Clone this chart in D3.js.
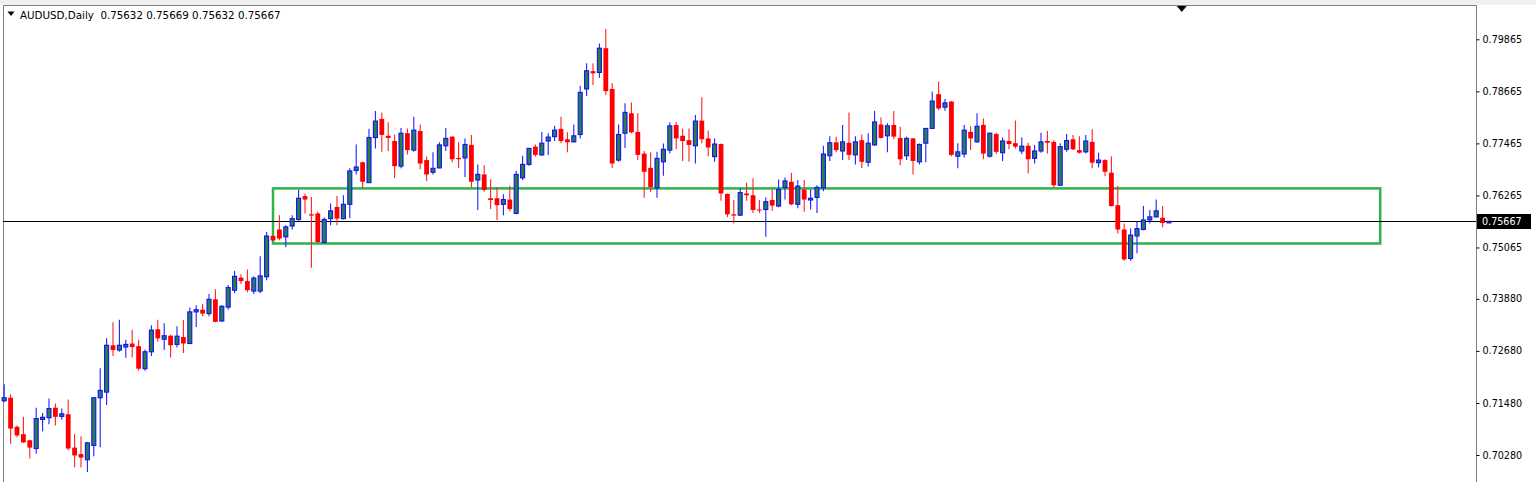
<!DOCTYPE html>
<html><head><meta charset="utf-8">
<script src="https://cdn.jsdelivr.net/npm/d3@7"></script>
<style>html,body{margin:0;padding:0;background:#fff;overflow:hidden}</style>
</head><body>
<svg id="c" width="1536" height="482"></svg>
<script>
const symbol = "AUDUSD,Daily";
const headerOHLC = ["0.75632", "0.75669", "0.75632", "0.75667"];
const opens = [.7153,.7160,.7093,.7076,.7062,.7043,.7110,.7114,.7137,.7117,.7122,.7045,.7030,.7017,.7050,.7160,.7173,.7281,.7270,.7277,
.7285,.7279,.7227,.7266,.7318,.7295,.7303,.7283,.7300,.7285,.7358,.7363,.7354,.7387,.7337,.7369,.7408,.7437,.7429,.7406,
.7406,.7439,.7533,.7548,.7531,.7556,.7571,.7625,.7583,.7585,.7518,.7573,.7600,.7573,.7606,.7684,.7703,.7656,.7760,.7803,
.7764,.7752,.7694,.7770,.7731,.7775,.7708,.7680,.7690,.7741,.7762,.7713,.7713,.7743,.7662,.7675,.7620,.7620,.7606,.7617,
.7585,.7667,.7698,.7739,.7720,.7752,.7762,.7780,.7756,.7750,.7767,.7872,.7913,.7910,.7966,.7872,.7708,.7770,.7816,.7773,
.7723,.7690,.7644,.7704,.7731,.7789,.7764,.7754,.7741,.7799,.7758,.7716,.7745,.7630,.7583,.7581,.7631,.7627,.7594,.7594,
.7616,.7602,.7645,.7658,.7606,.7640,.7616,.7622,.7644,.7718,.7749,.7729,.7748,.7720,.7754,.7703,.7743,.7790,.7764,.7789,
.7759,.7718,.7758,.7704,.7747,.7781,.7860,.7830,.7843,.7717,.7722,.7773,.7750,.7789,.7717,.7768,.7725,.7752,.7747,.7729,
.7741,.7712,.7729,.7752,.7750,.7650,.7733,.7756,.7731,.7727,.7750,.7702,.7708,.7679,.7604,.7548,.7481,.7533,.7548,.7570,
.7577,.7575,.75632];
const highs = [.7191,.7168,.7096,.7116,.7063,.7137,.7125,.7158,.7147,.7135,.7156,.7076,.7071,.7058,.7161,.7228,.7297,.7334,.7340,.7294,
.7317,.7294,.7271,.7327,.7340,.7332,.7306,.7325,.7339,.7368,.7373,.7377,.7399,.7410,.7373,.7420,.7452,.7445,.7456,.7440,
.7486,.7542,.7535,.7581,.7558,.7581,.7640,.7631,.7623,.7589,.7576,.7608,.7625,.7627,.7689,.7744,.7704,.7780,.7821,.7818,
.7795,.7767,.7782,.7781,.7808,.7790,.7716,.7726,.7749,.7782,.7763,.7749,.7758,.7766,.7698,.7696,.7664,.7646,.7629,.7649,
.7683,.7718,.7736,.7744,.7773,.7770,.7787,.7808,.7772,.7790,.7879,.7931,.7931,.7977,.8010,.7885,.7790,.7839,.7841,.7816,
.7729,.7726,.7727,.7746,.7795,.7796,.7780,.7781,.7812,.7853,.7776,.7758,.7746,.7631,.7616,.7643,.7656,.7666,.7616,.7622,
.7640,.7663,.7668,.7679,.7662,.7662,.7640,.7650,.7741,.7763,.7762,.7789,.7818,.7763,.7767,.7770,.7821,.7806,.7793,.7821,
.7785,.7762,.7759,.7746,.7782,.7866,.7889,.7849,.7844,.7747,.7789,.7786,.7816,.7804,.7771,.7771,.7760,.7779,.7799,.7760,
.7748,.7743,.7771,.7775,.7754,.7747,.7768,.7766,.7763,.7766,.7779,.7725,.7710,.7717,.7648,.7562,.7550,.7566,.7602,.7593,
.7617,.7602,.75669];
const lows = [.7150,.7054,.7069,.7056,.7020,.7031,.7083,.7099,.7096,.7110,.7039,.7000,.6999,.6989,.7025,.7046,.7143,.7256,.7266,.7252,
.7253,.7222,.7222,.7256,.7289,.7270,.7253,.7276,.7263,.7284,.7323,.7348,.7348,.7334,.7335,.7363,.7401,.7422,.7403,.7399,
.7401,.7431,.7521,.7523,.7507,.7548,.7568,.7585,.7460,.7517,.7516,.7558,.7558,.7571,.7574,.7675,.7644,.7655,.7735,.7727,
.7729,.7666,.7689,.7721,.7727,.7687,.7660,.7675,.7689,.7729,.7703,.7690,.7669,.7646,.7593,.7635,.7595,.7570,.7581,.7590,
.7583,.7662,.7695,.7716,.7718,.7720,.7752,.7747,.7726,.7749,.7758,.7856,.7881,.7898,.7858,.7690,.7704,.7736,.7770,.7708,
.7621,.7635,.7621,.7672,.7723,.7733,.7706,.7704,.7700,.7747,.7717,.7704,.7614,.7576,.7562,.7579,.7614,.7586,.7586,.7531,
.7591,.7599,.7617,.7604,.7597,.7589,.7594,.7586,.7636,.7706,.7726,.7708,.7708,.7698,.7690,.7693,.7741,.7758,.7726,.7756,
.7696,.7708,.7675,.7698,.7703,.7780,.7823,.7822,.7717,.7689,.7714,.7731,.7748,.7710,.7714,.7722,.7706,.7733,.7735,.7722,
.7677,.7700,.7725,.7723,.7645,.7649,.7727,.7731,.7723,.7723,.7689,.7691,.7671,.7601,.7539,.7476,.7476,.7493,.7546,.7562,
.7576,.7553,.75632];
const closes = [.7160,.7089,.7073,.7057,.7045,.7112,.7115,.7135,.7116,.7123,.7043,.7027,.7022,.7056,.7160,.7177,.7281,.7270,.7281,.7283,
.7277,.7227,.7266,.7316,.7297,.7303,.7281,.7302,.7285,.7358,.7363,.7354,.7387,.7335,.7371,.7414,.7440,.7429,.7408,.7436,
.7441,.7533,.7523,.7527,.7554,.7573,.7620,.7617,.7580,.7519,.7571,.7591,.7573,.7606,.7683,.7692,.7658,.7760,.7798,.7766,
.7759,.7694,.7770,.7731,.7777,.7700,.7675,.7689,.7743,.7758,.7710,.7710,.7744,.7658,.7675,.7639,.7616,.7604,.7617,.7595,
.7675,.7698,.7735,.7720,.7747,.7761,.7777,.7752,.7749,.7764,.7864,.7914,.7908,.7966,.7867,.7700,.7767,.7818,.7772,.7720,
.7681,.7646,.7712,.7733,.7787,.7758,.7752,.7743,.7798,.7756,.7737,.7745,.7631,.7583,.7580,.7633,.7627,.7593,.7592,.7612,
.7603,.7640,.7660,.7606,.7648,.7617,.7620,.7645,.7722,.7748,.7731,.7750,.7720,.7750,.7704,.7747,.7796,.7759,.7787,.7762,
.7710,.7758,.7706,.7744,.7781,.7844,.7827,.7840,.7720,.7727,.7777,.7758,.7786,.7723,.7770,.7727,.7752,.7745,.7739,.7740,
.7710,.7729,.7750,.7748,.7650,.7739,.7753,.7733,.7725,.7752,.7702,.7708,.7681,.7602,.7548,.7479,.7535,.7550,.7570,.7577,
.7591,.7563,.75667];
const tickLabels = ["0.79865","0.78665","0.77465","0.76265","0.75065","0.73880","0.72680","0.71480","0.70280"];
const lastPrice = 0.75667;
const lastLabel = "0.75667";
const zonePrices = [0.76427, 0.75157];
const zoneBars = [42, 215];
const shiftBar = 184;

const svg = d3.select("#c");
const W = 1536, H = 482;
const plotRight = 1476, plotLeft = 3, plotTop = 5;
const FONT = "DejaVu Sans, Verdana, sans-serif";
const x = d3.scaleLinear().domain([0, 182]).range([4.2, 1169]);
const y = d3.scaleLinear().domain([0.70280, 0.79865]).range([455, 39.3]);

svg.append("rect").attr("width", W).attr("height", H).attr("fill", "#fff");
svg.append("rect").attr("width", W).attr("height", plotTop).attr("fill", "#f0f0f0");

// frame
svg.append("line").attr("x1", plotLeft + 0.5).attr("x2", plotLeft + 0.5).attr("y1", plotTop).attr("y2", H).attr("stroke", "#808080");
svg.append("line").attr("x1", plotLeft).attr("x2", plotRight + 1).attr("y1", plotTop + 0.5).attr("y2", plotTop + 0.5).attr("stroke", "#808080");
svg.append("line").attr("x1", plotRight + 0.5).attr("x2", plotRight + 0.5).attr("y1", plotTop).attr("y2", H).attr("stroke", "#808080");

const data = opens.map((o, i) => ({i, o, h: highs[i], l: lows[i], c: closes[i]}));

// axis
const axis = svg.append("g").attr("transform", `translate(${plotRight + 0.5},0)`)
  .call(d3.axisRight(y).tickValues(tickLabels.map(Number)).tickFormat((d, k) => tickLabels[k]).tickSize(3).tickPadding(3));
axis.select(".domain").remove();
axis.selectAll(".tick line").attr("stroke", "#000");
axis.selectAll("text").attr("font-family", FONT).attr("font-size", "9.6px").attr("fill", "#000");

// zone rectangle
svg.append("rect")
  .attr("x", x(zoneBars[0])).attr("y", y(zonePrices[0]))
  .attr("width", x(zoneBars[1]) - x(zoneBars[0]))
  .attr("height", y(zonePrices[1]) - y(zonePrices[0]))
  .attr("fill", "none").attr("stroke", "#2fb24a").attr("stroke-width", 2.5);

// last price line
const ly = Math.round(y(lastPrice)) + 0.5;
svg.append("line").attr("x1", plotLeft).attr("x2", plotRight).attr("y1", ly).attr("y2", ly).attr("stroke", "#000").attr("stroke-width", 1);

// candles
const g = svg.append("g");
data.forEach(d => {
  const cx = x(d.i);
  const bull = d.c >= d.o;
  const wc = bull ? "#2020ff" : "#ff2020";
  g.append("line").attr("x1", cx).attr("x2", cx)
    .attr("y1", y(d.h)).attr("y2", y(d.l)).attr("stroke", wc).attr("stroke-width", 1.1);
  const top = y(Math.max(d.o, d.c)), bot = y(Math.min(d.o, d.c));
  const hgt = Math.max(1, bot - top);
  if (bull) {
    g.append("rect").attr("x", cx - 2).attr("y", top)
      .attr("width", 4).attr("height", hgt)
      .attr("fill", "#2a7f45").attr("stroke", "#1010ff").attr("stroke-width", 1.1);
  } else {
    g.append("rect").attr("x", cx - 2.4).attr("y", top)
      .attr("width", 4.8).attr("height", hgt)
      .attr("fill", "#ff0000");
  }
});

// last price label
svg.append("rect").attr("x", plotRight + 1).attr("y", ly - 7.5).attr("width", 54).attr("height", 15).attr("fill", "#000");
svg.append("text").attr("x", plotRight + 6).attr("y", ly + 3.5).text(lastLabel)
  .attr("font-family", FONT).attr("font-size", "9.6px").attr("fill", "#fff");

// shift marker
const sx = x(shiftBar);
svg.append("path").attr("d", `M${sx - 5},${plotTop + 1}L${sx + 5},${plotTop + 1}L${sx},${plotTop + 7}Z`).attr("fill", "#000");

// header
svg.append("path").attr("d", "M7.5,11.5L14.5,11.5L11,16Z").attr("fill", "#000");
svg.append("text").attr("x", 20).attr("y", 18.5).text(symbol + "  " + headerOHLC.join(" "))
  .attr("font-family", FONT).attr("font-size", "10.3px").attr("fill", "#000")
  .attr("xml:space", "preserve").style("white-space", "pre");
</script>
</body></html>
